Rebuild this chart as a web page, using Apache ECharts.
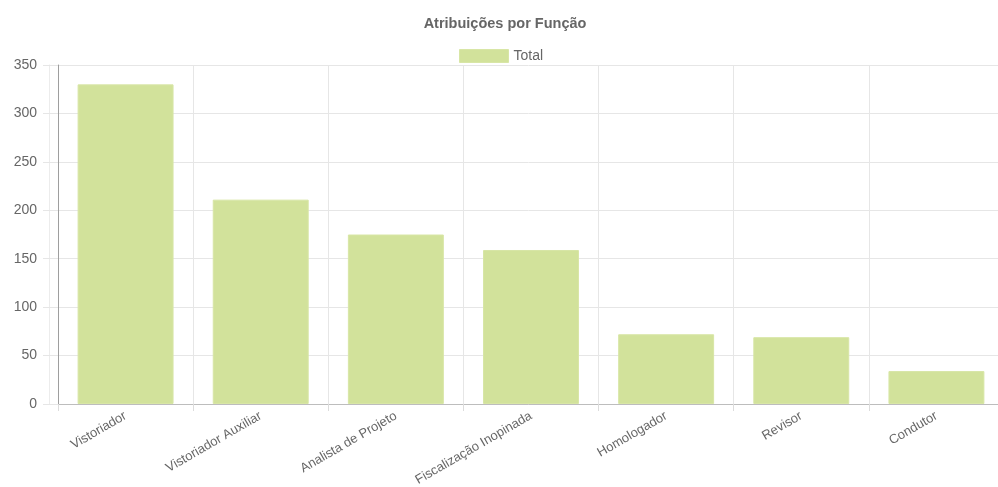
<!DOCTYPE html>
<html>
<head>
<meta charset="utf-8">
<script src="https://cdn.jsdelivr.net/npm/echarts@6/dist/echarts.min.js"></script>
<style>
  html, body { margin: 0; padding: 0; background: #fff; }
  #chart { width: 998px; height: 487px; }
</style>
</head>
<body>
<div id="chart"></div>
<script>
const categories = ['Vistoriador', 'Vistoriador Auxiliar', 'Analista de Projeto', 'Fiscalização Inopinada', 'Homologador', 'Revisor', 'Condutor'];
const totals = [330, 211, 175, 159, 72, 69, 34];
const yTicks = { min: 0, max: 350, interval: 50 };

const chart = echarts.init(document.getElementById('chart'));
const font = 'Liberation Sans, Arial, Helvetica, sans-serif';
const textGray = '#666';
const barColor = '#d2e29b';

chart.setOption({
  animation: false,
  textStyle: { fontFamily: font },
  title: {
    text: 'Atribuições por Função',
    left: 500,
    textAlign: 'center',
    top: 11,
    textStyle: { fontSize: 14.5, fontWeight: 'bold', color: textGray, fontFamily: font }
  },
  legend: {
    data: ['Total'],
    left: 454,
    top: 44,
    icon: 'rect',
    itemWidth: 49,
    itemHeight: 13,
    itemGap: 8,
    textStyle: { fontSize: 14, color: textGray, fontFamily: font },
    itemStyle: { color: barColor, borderColor: '#d8e6a6', borderWidth: 1 }
  },
  grid: { left: 58, top: 65, width: 946, height: 339, outerBoundsMode: 'none', containLabel: false },
  xAxis: {
    type: 'category',
    data: categories,
    boundaryGap: true,
    axisLine: { show: true, lineStyle: { color: '#bdbdbd', width: 1 } },
    axisTick: { show: true, alignWithLabel: false, length: 7, lineStyle: { color: '#dcdcdc' } },
    splitLine: { show: true, interval: 0, lineStyle: { color: '#e6e6e6', width: 1 } },
    axisLabel: {
      interval: 0,
      rotate: 30,
      margin: 11,
      fontSize: 13,
      color: textGray,
      fontFamily: font
    }
  },
  yAxis: [
    {
      type: 'value',
      min: yTicks.min,
      max: yTicks.max,
      interval: yTicks.interval,
      axisLine: { show: true, lineStyle: { color: '#9e9e9e', width: 1 } },
      axisTick: { show: true, length: 15, lineStyle: { color: '#e6e6e6' } },
      splitLine: { show: true, lineStyle: { color: '#e6e6e6', width: 1 } },
      axisLabel: { margin: 21, fontSize: 14, color: textGray, fontFamily: font }
    },
    {
      type: 'value',
      position: 'left',
      offset: 9,
      min: yTicks.min,
      max: yTicks.max,
      interval: yTicks.interval,
      axisLine: { show: true, lineStyle: { color: '#ececec', width: 1 } },
      axisTick: { show: false },
      axisLabel: { show: false },
      splitLine: { show: false }
    }
  ],
  series: [
    {
      name: 'Total',
      type: 'bar',
      data: totals,
      yAxisIndex: 0,
      barCategoryGap: '29%',
      itemStyle: { color: barColor, borderColor: '#d8e6a6', borderWidth: 1 }
    }
  ]
});
</script>
</body>
</html>
